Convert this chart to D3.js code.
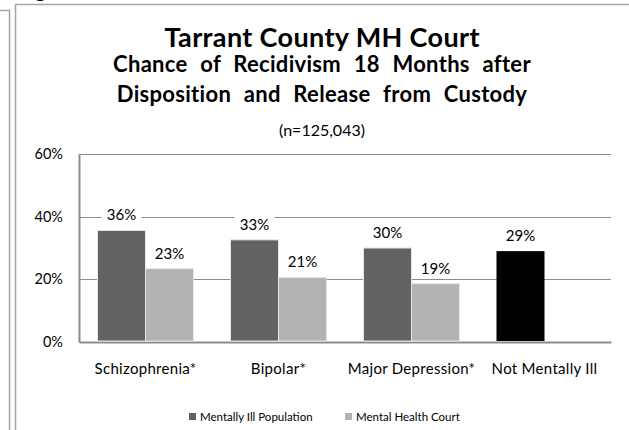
<!DOCTYPE html>
<html>
<head>
<meta charset="utf-8">
<script src="https://cdn.jsdelivr.net/npm/d3@7"></script>
<style>
  html, body { margin: 0; padding: 0; background: #fff; }
  svg { display: block; }
</style>
</head>
<body>
<div id="chart"></div>
<script>
let categories = ["Schizophrenia*", "Bipolar*", "Major Depression*", "Not Mentally Ill"];
let mentallyIll = [0.356, 0.326, 0.30, null];
let mentalHealthCourt = [0.234, 0.206, 0.186, null];
let notMentallyIll = [null, null, null, 0.29];
let yTicks = [0, 0.2, 0.4, 0.6];
let seriesNames = ["Mentally Ill Population", "Mental Health Court"];

let width = 629;
let height = 430;
let font = "Lato, 'Open Sans', sans-serif";

let svg = d3.select("#chart")
    .append("svg")
    .attr("width", width)
    .attr("height", height);

// page frame pieces around the chart
let frame = svg.append("g")
    .attr("fill", "none")
    .attr("stroke", "#a6a6a6")
    .attr("stroke-width", 1.5);
frame.append("path").attr("d", "M0,10.5 H9.5 V430");
frame.append("path").attr("d", "M15.5,430 V4.5 H629");
svg.append("text")
    .attr("x", 35)
    .attr("y", -3)
    .attr("font-family", font)
    .attr("font-weight", "bold")
    .attr("font-size", 20)
    .text("g");

// titles
let cx = 322;
svg.append("text")
    .attr("x", cx).attr("y", 47)
    .attr("text-anchor", "middle")
    .attr("font-family", font).attr("font-weight", "bold")
    .attr("font-size", 27)
    .attr("textLength", 315)
    .attr("lengthAdjust", "spacing")
    .text("Tarrant County MH Court");
let subtitles = ["Chance of Recidivism 18 Months after", "Disposition and Release from Custody"];
svg.append("g")
    .selectAll("text")
    .data(subtitles)
    .enter()
    .append("text")
    .attr("x", cx)
    .attr("y", (d, i) => 72 + i * 29.5)
    .attr("text-anchor", "middle")
    .attr("font-family", font).attr("font-weight", "bold")
    .attr("font-size", 22)
    .attr("word-spacing", 7)
    .attr("letter-spacing", 0.3)
    .text(d => d);
svg.append("text")
    .attr("x", cx).attr("y", 136)
    .attr("text-anchor", "middle")
    .attr("font-family", font)
    .attr("font-size", 16)
    .text("(n=125,043)");

// scales
let x0 = d3.scaleBand()
    .domain(categories)
    .range([79, 611])
    .paddingInner(0.278)
    .paddingOuter(0.139);
let x1 = d3.scaleBand()
    .domain([0, 1])
    .range([0, x0.bandwidth()]);
let y = d3.scaleLinear()
    .domain([0, 0.6])
    .range([342, 154]);
let fmt = d3.format(".0%");

// gridlines
svg.append("g")
    .selectAll("line")
    .data(yTicks.slice(1))
    .enter()
    .append("line")
    .attr("x1", 79).attr("x2", 611)
    .attr("y1", d => Math.round(y(d)) + 0.5)
    .attr("y2", d => Math.round(y(d)) + 0.5)
    .attr("stroke", "#8c8c8c");

// y axis
let yAxis = svg.append("g")
    .attr("transform", "translate(79,0)")
    .call(d3.axisLeft(y).tickValues(yTicks).tickFormat(fmt).tickSize(0).tickPadding(16));
yAxis.select(".domain").attr("stroke", "#8c8c8c").attr("stroke-width", 2);
yAxis.selectAll("text")
    .attr("font-family", font)
    .attr("font-size", 14.5)
    .attr("fill", "#000");

// x axis
let xAxis = svg.append("g")
    .attr("transform", "translate(0,342)")
    .call(d3.axisBottom(x0).tickSize(0).tickPadding(21));
xAxis.select(".domain").attr("stroke", "#8c8c8c").attr("stroke-width", 2);
xAxis.selectAll("text")
    .attr("font-family", font)
    .attr("font-size", 15)
    .attr("letter-spacing", 0.3)
    .attr("fill", "#000");

// bars
let rows = [];
categories.forEach((c, i) => {
    if (mentallyIll[i] != null) rows.push({cat: c, slot: 0, v: mentallyIll[i], fill: "#636363"});
    if (mentalHealthCourt[i] != null) rows.push({cat: c, slot: 1, v: mentalHealthCourt[i], fill: "#b3b3b3"});
    if (notMentallyIll[i] != null) rows.push({cat: c, slot: 0, v: notMentallyIll[i], fill: "#000000"});
});

let bar = svg.append("g")
    .selectAll(".bar")
    .data(rows)
    .enter()
    .append("g")
    .attr("class", "bar");

bar.append("rect")
    .attr("x", d => x0(d.cat) + x1(d.slot))
    .attr("y", d => y(d.v))
    .attr("width", x1.bandwidth())
    .attr("height", d => y(0) - y(d.v) - 1)
    .attr("fill", d => d.fill)
    .attr("stroke", d => d.fill === "#000000" ? "none" : "#e6e6e6")
    .attr("stroke-width", 1);

bar.append("rect")
    .attr("x", d => x0(d.cat) + x1(d.slot) + x1.bandwidth() / 2 - 20)
    .attr("y", d => y(d.v) - 25)
    .attr("width", 40)
    .attr("height", 18)
    .attr("fill", "#fff");

bar.append("text")
    .attr("x", d => x0(d.cat) + x1(d.slot) + x1.bandwidth() / 2)
    .attr("y", d => y(d.v) - 10)
    .attr("text-anchor", "middle")
    .attr("font-family", font)
    .attr("font-size", 15)
    .text(d => fmt(d.v));

// legend
let legend = svg.append("g")
    .selectAll(".legend")
    .data(seriesNames)
    .enter()
    .append("g")
    .attr("class", "legend")
    .attr("transform", (d, i) => "translate(" + (i === 0 ? 189 : 345) + ",413)");
legend.append("rect")
    .attr("width", 7).attr("height", 7)
    .attr("fill", (d, i) => i === 0 ? "#636363" : "#b3b3b3");
legend.append("text")
    .attr("x", 11).attr("y", 7.5)
    .attr("font-family", font)
    .attr("font-size", 11.5)
    .text(d => d);
</script>
</body>
</html>
